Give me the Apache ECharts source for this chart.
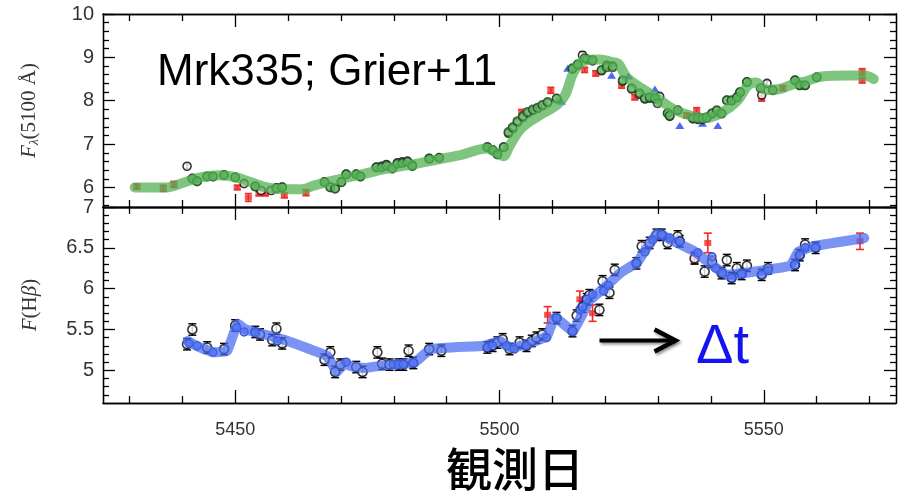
<!DOCTYPE html>
<html><head><meta charset="utf-8">
<script src="https://cdn.jsdelivr.net/npm/echarts@6/dist/echarts.min.js"></script>
<style>html,body{margin:0;padding:0;background:#fff}#c{width:899px;height:501px}</style>
</head><body><div id="c"></div>
<script>
// ---------- tick values ----------
const xMajorTicks = [5450, 5500, 5550];
const xMinorTicks = [5430, 5440, 5460, 5470, 5480, 5490, 5510, 5520, 5530, 5540, 5560, 5570];
const contMajorTicks = [6, 7, 8, 9, 10];
const contMinorTicks = [5.6, 5.8, 6.2, 6.4, 6.6, 6.8, 7.2, 7.4, 7.6, 7.8, 8.2, 8.4, 8.6, 8.8, 9.2, 9.4, 9.6, 9.8];
const hbMajorTicks = [5, 5.5, 6, 6.5, 7];
const hbMinorTicks = [4.7, 4.8, 4.9, 5.1, 5.2, 5.3, 5.4, 5.6, 5.7, 5.8, 5.9, 6.1, 6.2, 6.3, 6.4, 6.6, 6.7, 6.8, 6.9];

// ---------- continuum panel (top) ----------
const contModelDay  = [5431, 5437, 5439.5, 5443, 5447, 5450, 5453, 5456, 5459, 5462.5, 5465, 5467.5, 5470, 5474, 5478, 5483, 5488, 5493, 5497.5, 5499.5, 5500.7, 5502, 5504, 5507, 5511, 5512.5, 5514, 5516, 5519, 5521, 5522.5, 5524, 5527, 5530, 5533, 5536, 5539, 5542, 5545, 5547, 5548.5, 5550.5, 5553, 5556, 5558, 5561, 5566, 5569, 5570.8];
const contModelFlux = [6.0, 6.0, 6.08, 6.22, 6.28, 6.24, 6.12, 6.0, 5.96, 5.96, 6.05, 6.13, 6.2, 6.3, 6.42, 6.52, 6.64, 6.76, 6.9, 6.8, 6.72, 6.98, 7.35, 7.62, 7.92, 8.15, 8.65, 8.92, 8.95, 8.9, 8.85, 8.55, 8.28, 8.05, 7.8, 7.66, 7.6, 7.72, 8.0, 8.35, 8.42, 8.25, 8.27, 8.4, 8.45, 8.56, 8.58, 8.58, 8.5];

const contObsDay  = [5440.9, 5441.9, 5442.8, 5444.7, 5445.8, 5447.9, 5450.0, 5451.7, 5453.8, 5454.9, 5456.8, 5457.8, 5458.9, 5466.9, 5468.0, 5468.9, 5470.1, 5471.0, 5472.9, 5473.7, 5476.7, 5477.7, 5478.6, 5479.7, 5480.7, 5481.6, 5482.6, 5483.5, 5486.7, 5488.6, 5497.7, 5498.7, 5499.6, 5500.8, 5501.7, 5502.5, 5503.4, 5504.4, 5505.3, 5506.3, 5507.2, 5508.1, 5509.1, 5510.8, 5513.8, 5514.8, 5515.7, 5516.5, 5517.6, 5519.3, 5520.3, 5521.4, 5523.3, 5525.0, 5526.5, 5527.5, 5528.4, 5529.4, 5530.3, 5531.8, 5532.2, 5533.7, 5536.6, 5537.5, 5538.4, 5539.2, 5540.2, 5541.1, 5542.0, 5543.0, 5543.9, 5544.9, 5545.5, 5546.8, 5549.6, 5550.6, 5551.7, 5555.9, 5556.8, 5557.8, 5560.0];
const contObsFlux = [6.49, 6.21, 6.15, 6.26, 6.26, 6.29, 6.24, 6.09, 6.03, 5.93, 5.93, 5.99, 6.01, 6.13, 6.01, 5.98, 6.13, 6.31, 6.31, 6.26, 6.47, 6.49, 6.53, 6.46, 6.57, 6.59, 6.61, 6.52, 6.67, 6.69, 6.93, 6.87, 6.77, 6.93, 7.25, 7.36, 7.50, 7.61, 7.71, 7.77, 7.82, 7.88, 7.95, 8.05, 8.73, 8.82, 9.05, 8.96, 8.92, 8.69, 8.82, 8.80, 8.45, 8.27, 8.15, 8.04, 8.06, 8.04, 8.10, 7.71, 7.64, 7.78, 7.58, 7.57, 7.57, 7.60, 7.70, 7.77, 7.70, 8.01, 8.00, 8.07, 8.19, 8.43, 8.13, 8.40, 8.24, 8.47, 8.35, 8.35, 8.54];
const contObsErr  = [0.05, 0.04, 0.04, 0.04, 0.04, 0.04, 0.04, 0.04, 0.04, 0.04, 0.04, 0.04, 0.04, 0.04, 0.04, 0.04, 0.04, 0.04, 0.04, 0.04, 0.04, 0.04, 0.04, 0.04, 0.04, 0.04, 0.04, 0.04, 0.04, 0.04, 0.05, 0.05, 0.05, 0.05, 0.05, 0.05, 0.05, 0.05, 0.05, 0.05, 0.05, 0.05, 0.05, 0.05, 0.06, 0.06, 0.08, 0.06, 0.06, 0.06, 0.07, 0.06, 0.06, 0.06, 0.06, 0.06, 0.06, 0.06, 0.06, 0.06, 0.06, 0.06, 0.06, 0.06, 0.06, 0.06, 0.06, 0.06, 0.06, 0.06, 0.06, 0.06, 0.06, 0.06, 0.07, 0.06, 0.06, 0.06, 0.06, 0.06, 0.06];

const contFitDay  = [5441.9, 5442.8, 5444.7, 5445.8, 5447.9, 5450.0, 5453.8, 5457.8, 5458.9, 5466.9, 5468.0, 5468.9, 5470.1, 5471.0, 5472.9, 5473.7, 5476.7, 5477.7, 5478.6, 5479.7, 5480.7, 5481.6, 5482.6, 5483.5, 5486.7, 5488.6, 5497.7, 5498.7, 5499.6, 5500.8, 5501.7, 5502.5, 5503.4, 5504.4, 5505.3, 5506.3, 5507.2, 5508.1, 5509.1, 5510.8, 5513.8, 5514.8, 5516.1, 5517.6, 5519.3, 5520.3, 5521.4, 5523.3, 5525.0, 5526.5, 5527.5, 5528.4, 5529.4, 5529.9, 5531.8, 5532.2, 5533.7, 5536.6, 5537.5, 5538.4, 5539.2, 5540.2, 5541.1, 5542.0, 5543.0, 5543.9, 5544.9, 5545.5, 5546.8, 5549.4, 5551.7, 5555.9, 5556.8, 5557.8, 5560.0];
const contFitFlux = [6.20, 6.14, 6.25, 6.25, 6.28, 6.23, 6.02, 5.98, 6.00, 6.12, 6.00, 5.97, 6.12, 6.30, 6.30, 6.25, 6.46, 6.46, 6.50, 6.43, 6.55, 6.56, 6.59, 6.49, 6.66, 6.68, 6.93, 6.86, 6.76, 6.93, 7.28, 7.39, 7.53, 7.64, 7.74, 7.80, 7.84, 7.90, 7.97, 8.05, 8.75, 8.84, 8.98, 8.94, 8.71, 8.77, 8.77, 8.47, 8.29, 8.17, 8.06, 8.08, 8.06, 7.94, 7.71, 7.66, 7.78, 7.60, 7.60, 7.60, 7.62, 7.71, 7.78, 7.71, 8.01, 8.01, 8.08, 8.20, 8.43, 8.29, 8.24, 8.47, 8.36, 8.36, 8.54];

const contRedDay  = [5431.4, 5436.4, 5438.4, 5450.4, 5452.5, 5454.5, 5455.7, 5459.3, 5463.4, 5504.2, 5509.7, 5516.1, 5518.2, 5523.1, 5525.6, 5535.4, 5537.3, 5549.6, 5553.6, 5568.6, 5568.6];
const contRedFlux = [6.02, 5.98, 6.07, 6.00, 5.77, 5.86, 5.86, 5.82, 5.88, 7.74, 8.24, 8.71, 8.63, 8.36, 8.08, 7.66, 7.78, 8.06, 8.29, 8.66, 8.47];
const contRedErr  = [0.06, 0.07, 0.07, 0.05, 0.09, 0.05, 0.05, 0.06, 0.07, 0.06, 0.07, 0.06, 0.06, 0.07, 0.06, 0.06, 0.06, 0.07, 0.06, 0.08, 0.06];

const contBlueDay  = [5511.7, 5512.9, 5521.2, 5524.4, 5529.4, 5534.1, 5538.4, 5541.3, 5545.0];
const contBlueFlux = [7.99, 8.75, 8.59, 8.57, 8.27, 7.43, 7.48, 7.43, 8.20];

// ---------- H-beta panel (bottom) ----------
const hbModelDay  = [5441, 5443, 5446, 5448.5, 5450.5, 5452, 5459, 5467.5, 5469.2, 5470.5, 5472, 5474.5, 5478, 5484, 5487, 5497, 5500, 5502, 5504, 5507, 5509, 5510.5, 5513.8, 5517, 5520, 5523, 5526, 5530, 5533, 5537, 5540, 5543, 5545, 5555, 5556.5, 5559.5, 5569];
const hbModelFlux = [5.36, 5.29, 5.22, 5.24, 5.57, 5.50, 5.38, 5.17, 4.98, 5.08, 5.05, 5.03, 5.06, 5.10, 5.26, 5.30, 5.36, 5.28, 5.30, 5.36, 5.42, 5.65, 5.48, 5.85, 6.02, 6.20, 6.32, 6.68, 6.58, 6.45, 6.30, 6.17, 6.18, 6.28, 6.45, 6.52, 6.62];

const hbObsDay  = [5440.9, 5441.9, 5444.7, 5447.9, 5450.0, 5453.8, 5454.7, 5457.0, 5457.8, 5458.9, 5466.9, 5468.0, 5468.9, 5469.9, 5472.9, 5474.1, 5476.9, 5477.8, 5479.2, 5480.9, 5481.8, 5482.8, 5483.7, 5486.7, 5489.0, 5497.7, 5498.7, 5499.6, 5500.6, 5501.9, 5503.8, 5505.1, 5506.1, 5507.0, 5508.1, 5510.8, 5513.8, 5514.6, 5515.7, 5516.5, 5517.0, 5518.9, 5519.5, 5520.8, 5521.8, 5525.9, 5526.9, 5528.4, 5529.7, 5530.7, 5531.8, 5533.7, 5534.1, 5536.9, 5538.8, 5540.2, 5542.0, 5543.0, 5543.9, 5544.9, 5545.8, 5546.8, 5549.6, 5550.8, 5555.9, 5556.8, 5557.8, 5559.8];
const hbObsFlux = [5.32, 5.50, 5.28, 5.26, 5.55, 5.47, 5.44, 5.37, 5.51, 5.33, 5.13, 5.22, 4.98, 5.07, 5.04, 4.98, 5.22, 5.08, 5.07, 5.07, 5.07, 5.24, 5.09, 5.26, 5.24, 5.28, 5.30, 5.34, 5.38, 5.26, 5.34, 5.30, 5.36, 5.40, 5.44, 5.64, 5.48, 5.67, 5.78, 5.87, 5.92, 5.74, 6.09, 5.95, 6.23, 6.31, 6.52, 6.56, 6.66, 6.66, 6.56, 6.64, 6.58, 6.37, 6.21, 6.33, 6.19, 6.35, 6.13, 6.25, 6.18, 6.28, 6.17, 6.25, 6.29, 6.41, 6.54, 6.50];
const hbObsErr  = [0.07, 0.07, 0.07, 0.07, 0.07, 0.07, 0.07, 0.07, 0.07, 0.07, 0.07, 0.07, 0.07, 0.07, 0.07, 0.07, 0.07, 0.07, 0.07, 0.07, 0.07, 0.07, 0.07, 0.07, 0.07, 0.07, 0.07, 0.07, 0.07, 0.07, 0.07, 0.07, 0.07, 0.07, 0.07, 0.07, 0.07, 0.07, 0.07, 0.07, 0.07, 0.07, 0.07, 0.07, 0.07, 0.07, 0.07, 0.07, 0.07, 0.07, 0.07, 0.07, 0.07, 0.07, 0.07, 0.07, 0.07, 0.07, 0.07, 0.07, 0.07, 0.07, 0.07, 0.07, 0.07, 0.07, 0.07, 0.07];

const hbFitDay  = [5441.3, 5442.8, 5445.8, 5450.3, 5451.7, 5453.8, 5458.0, 5471.0, 5479.9, 5480.9, 5481.8, 5483.7, 5497.7, 5498.7, 5501.3, 5502.8, 5505.1, 5508.9, 5510.8, 5513.8, 5515.2, 5515.7, 5516.5, 5517.6, 5519.7, 5520.6, 5525.9, 5527.5, 5529.0, 5530.7, 5532.2, 5534.1, 5537.5, 5540.2, 5540.9, 5542.2, 5543.9, 5545.8, 5549.6, 5550.8, 5555.9, 5556.8, 5557.8, 5559.8];
const hbFitFlux = [5.33, 5.30, 5.22, 5.52, 5.47, 5.46, 5.36, 5.10, 5.07, 5.07, 5.07, 5.09, 5.28, 5.30, 5.30, 5.26, 5.30, 5.40, 5.64, 5.48, 5.74, 5.78, 5.87, 5.93, 5.97, 6.04, 6.31, 6.45, 6.60, 6.66, 6.62, 6.58, 6.44, 6.39, 6.25, 6.19, 6.13, 6.18, 6.17, 6.22, 6.29, 6.41, 6.50, 6.50];

const hbRedDay  = [5509.1, 5515.2, 5517.6, 5536.9, 5539.4, 5568.2];
const hbRedFlux = [5.68, 5.87, 5.70, 6.38, 6.56, 6.58];
const hbRedErr  = [0.10, 0.10, 0.10, 0.07, 0.12, 0.10];

// ---------- build chart ----------
const X_MIN = 5425, X_MAX = 5575;
const TOP = {min: 5.55, max: 10}, BOT = {min: 4.6, max: 7};
const AX = '#000';

function xAxisSet(grid, showLabel) {
  const base = {type: 'value', gridIndex: grid, min: X_MIN, max: X_MAX, splitLine: {show: false},
    axisLine: {show: true, onZero: false, lineStyle: {color: AX, width: 1.3}}};
  return [
    Object.assign({}, base, {position: 'bottom',
      axisTick: {show: true, inside: true, length: 13, customValues: xMajorTicks, lineStyle: {color: AX, width: 1.3}},
      axisLabel: {show: showLabel, customValues: xMajorTicks, margin: 18, formatter: v => String(v),
        fontFamily: 'Liberation Sans', fontSize: 18, color: '#333'}}),
    Object.assign({}, base, {position: 'bottom',
      axisTick: {show: true, inside: true, length: 7, customValues: xMinorTicks, lineStyle: {color: AX, width: 1.3}},
      axisLabel: {show: false}}),
    Object.assign({}, base, {position: 'top',
      axisTick: {show: true, inside: true, length: 13, customValues: xMajorTicks, lineStyle: {color: AX, width: 1.3}},
      axisLabel: {show: false}}),
    Object.assign({}, base, {position: 'top',
      axisTick: {show: true, inside: true, length: 7, customValues: xMinorTicks, lineStyle: {color: AX, width: 1.3}},
      axisLabel: {show: false}})
  ];
}
function yAxisSet(grid, rng, major, minor, name) {
  const base = {type: 'value', gridIndex: grid, min: rng.min, max: rng.max, splitLine: {show: false},
    axisLine: {show: true, onZero: false, lineStyle: {color: AX, width: 1.3}}};
  return [
    Object.assign({}, base, {position: 'left',
      name: name, nameLocation: 'middle', nameRotate: 90, nameGap: 62,
      nameTextStyle: {fontFamily: 'Liberation Serif', fontSize: 21, color: '#333',
        rich: {i: {fontFamily: 'Liberation Serif', fontStyle: 'italic', fontSize: 21, color: '#333'},
               s: {fontFamily: 'Liberation Serif', fontStyle: 'italic', fontSize: 13, color: '#333', padding: [11, 0, 0, 0]}}},
      axisTick: {show: true, inside: true, length: 12, customValues: major, lineStyle: {color: AX, width: 1.3}},
      axisLabel: {show: true, customValues: major, margin: 9, fontFamily: 'Liberation Sans', fontSize: 20, color: '#333'}}),
    Object.assign({}, base, {position: 'left',
      axisTick: {show: true, inside: true, length: 6, customValues: minor, lineStyle: {color: AX, width: 1.3}},
      axisLabel: {show: false}}),
    Object.assign({}, base, {position: 'right',
      axisTick: {show: true, inside: true, length: 12, customValues: major, lineStyle: {color: AX, width: 1.3}},
      axisLabel: {show: false}}),
    Object.assign({}, base, {position: 'right',
      axisTick: {show: true, inside: true, length: 6, customValues: minor, lineStyle: {color: AX, width: 1.3}},
      axisLabel: {show: false}})
  ];
}

function zip2(a, b) { return a.map((d, i) => [d, b[i]]); }
function zip3(a, b, c) { return a.map((d, i) => [d, b[i], c[i]]); }

function errBars(ax, data, color, lw, cap) {
  return {type: 'custom', xAxisIndex: ax, yAxisIndex: ax, data: data, encode: {x: 0, y: 1}, silent: true,
    renderItem: function (params, api) {
      const x = api.value(0), y = api.value(1), e = api.value(2);
      const lo = api.coord([x, y - e]), hi = api.coord([x, y + e]);
      const st = {stroke: color, lineWidth: lw};
      return {type: 'group', children: [
        {type: 'line', shape: {x1: lo[0], y1: lo[1], x2: hi[0], y2: hi[1]}, style: st},
        {type: 'line', shape: {x1: lo[0] - cap, y1: lo[1], x2: lo[0] + cap, y2: lo[1]}, style: st},
        {type: 'line', shape: {x1: hi[0] - cap, y1: hi[1], x2: hi[0] + cap, y2: hi[1]}, style: st}
      ]};
    }};
}
function scatter(ax, data, symbol, size, itemStyle) {
  return {type: 'scatter', xAxisIndex: ax, yAxisIndex: ax, data: data, symbol: symbol, symbolSize: size,
    itemStyle: itemStyle, silent: true};
}

const series = [
  // top panel
  errBars(0, zip3(contRedDay, contRedFlux, contRedErr), '#f02a2a', 1.6, 3.5),
  scatter(0, zip2(contRedDay, contRedFlux), 'rect', [7, 6], {color: '#f02a2a'}),
  {type: 'line', xAxisIndex: 0, yAxisIndex: 0, data: zip2(contModelDay, contModelFlux), smooth: 0.35,
    showSymbol: false, lineStyle: {color: 'rgba(84,178,84,0.75)', width: 10, cap: 'round', join: 'round'}, silent: true},
  scatter(0, zip2(contBlueDay, contBlueFlux), 'triangle', [9, 7], {color: '#2244ee'}),
  errBars(0, zip3(contObsDay, contObsFlux, contObsErr), '#000', 1.4, 3),
  scatter(0, zip2(contObsDay, contObsFlux), 'circle', 8, {color: '#fff', borderColor: '#000', borderWidth: 1.6}),
  scatter(0, zip2(contFitDay, contFitFlux), 'circle', 8.5, {color: '#62b562', borderColor: '#1d4a1d', borderWidth: 1.5}),
  // bottom panel
  errBars(4, zip3(hbRedDay, hbRedFlux, hbRedErr), '#f02a2a', 1.6, 4),
  scatter(4, zip2(hbRedDay, hbRedFlux), 'rect', [7, 6], {color: '#f02a2a'}),
  {type: 'line', xAxisIndex: 4, yAxisIndex: 4, data: zip2(hbModelDay, hbModelFlux), smooth: 0.1,
    showSymbol: false, lineStyle: {color: 'rgba(70,105,240,0.72)', width: 10, cap: 'round', join: 'round'}, silent: true},
  errBars(4, zip3(hbObsDay, hbObsFlux, hbObsErr), '#000', 1.4, 4),
  scatter(4, zip2(hbObsDay, hbObsFlux), 'circle', 9, {color: '#fff', borderColor: '#000', borderWidth: 1.6}),
  scatter(4, zip2(hbFitDay, hbFitFlux), 'circle', 8, {color: '#6f8ff2', borderColor: '#1f36c2', borderWidth: 1.5})
];

const chart = echarts.init(document.getElementById('c'), null, {renderer: 'canvas'});
chart.setOption({
  animation: false,
  backgroundColor: '#fff',
  grid: [
    {left: 103, right: 3, top: 14, height: 193},
    {left: 103, right: 3, top: 207, height: 196}
  ],
  xAxis: xAxisSet(0, false).concat(xAxisSet(1, true)),
  yAxis: yAxisSet(0, TOP, contMajorTicks, contMinorTicks, '{i|F}{s|λ}(5100 Å)')
    .concat(yAxisSet(1, BOT, hbMajorTicks, hbMinorTicks, '{i|F}(H{i|β})')),
  series: series,
  graphic: [
    {type: 'text', left: 157, top: 51, style: {text: 'Mrk335; Grier+11', fontFamily: 'Liberation Sans', fontSize: 44, fill: '#000'}},
    {type: 'text', left: 696, top: 320, style: {text: 'Δt', fontFamily: 'Liberation Sans', fontSize: 56, fill: '#1414f0'}},
    {type: 'group', left: 597, top: 327, children: [
      {type: 'line', shape: {x1: 0, y1: 12, x2: 74, y2: 12},
        style: {stroke: '#000', lineWidth: 4, shadowBlur: 3, shadowColor: 'rgba(0,0,0,0.45)', shadowOffsetX: 1.5, shadowOffsetY: 2}},
      {type: 'polyline', shape: {points: [[55, 1], [76, 12], [55, 23]]},
        style: {stroke: '#000', fill: null, lineWidth: 4.5, lineJoin: 'miter', shadowBlur: 3, shadowColor: 'rgba(0,0,0,0.45)', shadowOffsetX: 1.5, shadowOffsetY: 2}}
    ]},
    {type: 'text', left: 446, top: 446, style: {text: '観測日', fontFamily: 'Noto Sans CJK JP', fontSize: 46, fontWeight: 500, fill: '#000'}}
  ]
});
</script>
</body></html>
